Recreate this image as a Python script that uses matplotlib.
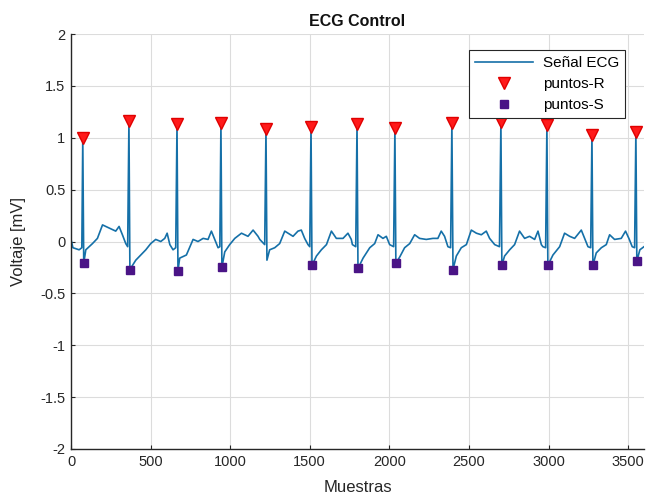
import matplotlib
matplotlib.use("Agg")
import matplotlib.pyplot as plt

plt.rcParams['font.family'] = ['Liberation Sans', 'DejaVu Sans']
plt.rcParams['axes.unicode_minus'] = False

# R peaks (sample index, mV)
r_idx = [74, 364, 666, 942, 1225, 1508, 1797, 2035, 2393, 2701, 2990, 3273, 3549]
r_val = [1.00, 1.16, 1.13, 1.14, 1.08, 1.10, 1.13, 1.09, 1.14, 1.15, 1.12, 1.03, 1.06]

# S points (sample index, mV)
s_idx = [80, 370, 672, 948, 1514, 1803, 2041, 2400, 2707, 2996, 3279, 3555]
s_val = [-0.21, -0.27, -0.28, -0.25, -0.23, -0.26, -0.21, -0.27, -0.23, -0.23, -0.23, -0.19]

# ECG trace vertices between the QRS spikes (sample index, mV)
base_idx = [0, 12, 51, 68,
            93, 135, 166, 198, 239, 281, 302, 323, 344, 356,
            407, 470, 501, 532, 564, 589, 604, 621, 641, 658,
            683, 725, 767, 798, 830, 861, 882, 903, 924, 935,
            966, 997, 1029, 1071, 1112, 1144, 1175, 1186, 1217,
            1231, 1248, 1280, 1311, 1343, 1364, 1395, 1426, 1447, 1468, 1489, 1500,
            1542, 1573, 1605, 1636, 1667, 1709, 1740, 1761, 1768, 1789,
            1835, 1877, 1908, 1929, 1960, 1981, 2002, 2027,
            2065, 2096, 2128, 2159, 2190, 2232, 2274, 2305, 2326, 2347, 2368, 2385,
            2421, 2452, 2484, 2515, 2547, 2578, 2609, 2630, 2662, 2692,
            2724, 2756, 2787, 2818, 2850, 2881, 2913, 2934, 2955, 2965, 2982,
            3028, 3070, 3101, 3133, 3164, 3206, 3227, 3248, 3265,
            3300, 3332, 3363, 3384, 3415, 3457, 3484, 3505, 3526, 3541,
            3574, 3600]
base_val = [0.02, -0.06, -0.08, -0.06,
            -0.08, -0.02, 0.03, 0.16, 0.13, 0.10, 0.145, 0.065, -0.02, -0.05,
            -0.18, -0.08, -0.02, 0.02, 0.00, 0.03, 0.08, -0.03, -0.08, -0.06,
            -0.16, -0.13, 0.02, 0.00, 0.03, 0.02, 0.10, 0.02, -0.06, -0.05,
            -0.10, -0.03, 0.03, 0.08, 0.05, 0.11, 0.05, 0.02, -0.03,
            -0.18, -0.08, -0.06, -0.02, 0.10, 0.08, 0.05, 0.10, 0.11, 0.03, -0.03, -0.05,
            -0.14, -0.08, -0.03, 0.10, 0.03, 0.03, 0.08, 0.02, -0.03, -0.05,
            -0.16, -0.06, -0.02, 0.065, 0.03, 0.05, -0.03, -0.05,
            -0.15, -0.06, -0.02, 0.065, 0.03, 0.02, 0.03, 0.03, 0.10, 0.05, -0.05, -0.06,
            -0.14, -0.06, -0.03, 0.11, 0.08, 0.065, 0.10, 0.03, -0.03, -0.05,
            -0.14, -0.08, -0.03, 0.10, 0.03, 0.05, 0.02, 0.10, -0.03, -0.05, -0.06,
            -0.13, -0.05, 0.08, 0.05, 0.03, 0.11, 0.03, -0.05, -0.06,
            -0.11, -0.06, -0.03, 0.065, 0.02, 0.03, 0.10, 0.03, -0.05, -0.06,
            -0.08, -0.05]

# merge the trace: baseline + R peaks + S points, ordered by sample index
pts = sorted(zip(base_idx + r_idx + s_idx, base_val + r_val + s_val))
ecg_x = [p[0] for p in pts]
ecg_y = [p[1] for p in pts]

fig = plt.figure(figsize=(6.46, 4.96), dpi=100)
ax = fig.add_axes([71/646, 1-449/496, (644-71)/646, (449-34)/496])

ax.plot(ecg_x, ecg_y, color='#1570A8', lw=1.2, label='Señal ECG', zorder=2)
ax.plot(r_idx, r_val, linestyle='none', marker='v', color='#FF1A1A',
        markeredgecolor='#E00000', markersize=8, label='puntos-R', zorder=3)
ax.plot(s_idx, s_val, linestyle='none', marker='s', color='#4A1486',
        markeredgecolor='#4A1486', markersize=5.5, label='puntos-S', zorder=3)

ax.set_xlim(0, 3600)
ax.set_ylim(-2, 2)
ax.set_xticks([0, 500, 1000, 1500, 2000, 2500, 3000, 3500])
ax.set_yticks([-2, -1.5, -1, -0.5, 0, 0.5, 1, 1.5, 2])
ax.set_yticklabels(['-2', '-1.5', '-1', '-0.5', '0', '0.5', '1', '1.5', '2'])
ax.grid(True, color='#dcdcdc', lw=0.8)
ax.set_axisbelow(True)
for sp in ['top', 'right']:
    ax.spines[sp].set_visible(False)
for sp in ['left', 'bottom']:
    ax.spines[sp].set_color('#262626')
    ax.spines[sp].set_linewidth(1.0)
ax.tick_params(direction='in', length=3, colors='#262626', labelsize=10.5, pad=4)

ax.set_title('ECG Control', fontsize=11.5, fontweight='bold', color='#111111', pad=6)
ax.set_xlabel('Muestras', fontsize=12, color='#262626', labelpad=8)
ax.set_ylabel('Voltaje [mV]', fontsize=12, color='#262626', labelpad=10)

leg = ax.legend(loc='upper right', bbox_to_anchor=((625-71)/573, 1-(50-34)/415),
                borderaxespad=0, fontsize=11, frameon=True, fancybox=False,
                edgecolor='#262626', framealpha=1, handlelength=3.8,
                borderpad=0.4, labelspacing=0.45, handletextpad=0.6)
leg.get_frame().set_linewidth(0.8)

fig.savefig('out.png', dpi=100)
